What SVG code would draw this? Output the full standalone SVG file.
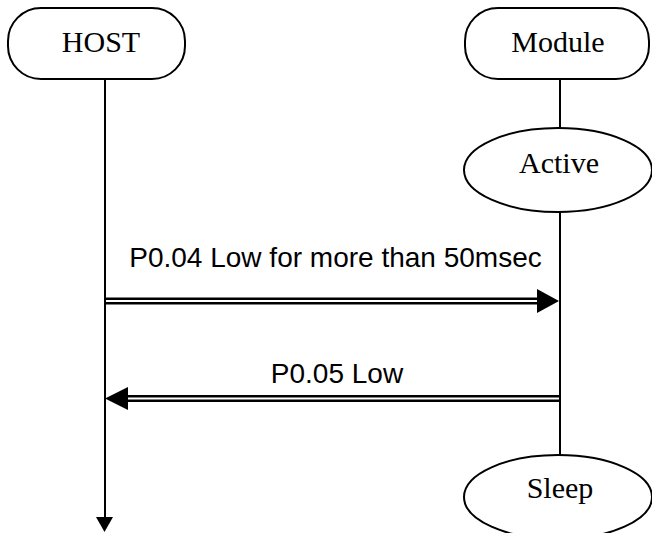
<svg xmlns="http://www.w3.org/2000/svg" width="652" height="533" viewBox="0 0 652 533">
<style>
.box{fill:#fff;stroke:#000;stroke-width:2}
.serif{font-family:"Liberation Serif","DejaVu Serif",serif;font-size:30px;text-anchor:middle;fill:#000}
.sans{font-family:"Liberation Sans",Arial,sans-serif;font-size:28px;text-anchor:middle;fill:#000}
.life{stroke:#000;stroke-width:2;fill:none}
.dbl{stroke:#000;stroke-width:7;fill:none}
.gap{stroke:#fff;stroke-width:2;fill:none}
</style>
<rect width="652" height="533" fill="#fff"/>
<g id="connectors">
  <line class="life" x1="105" y1="79" x2="105" y2="518"/>
  <polygon points="96,517 113,517 104.5,532" fill="#000"/>
  <line class="life" x1="560" y1="79" x2="560" y2="128"/>
  <line class="life" x1="560" y1="212" x2="560" y2="455"/>
  <g id="msg1">
    <line class="dbl" x1="105" y1="301" x2="539" y2="301"/>
    <line class="gap" x1="106" y1="301" x2="539" y2="301"/>
    <polygon points="537,289 559,301 537,313" fill="#000"/>
    <text class="sans" x="335.5" y="267">P0.04 Low for more than 50msec</text>
  </g>
  <g id="msg2">
    <line class="dbl" x1="126" y1="398.5" x2="560" y2="398.5"/>
    <line class="gap" x1="126" y1="398.5" x2="559" y2="398.5"/>
    <polygon points="128,387 105,398.5 128,410" fill="#000"/>
    <text class="sans" x="337" y="383">P0.05 Low</text>
  </g>
</g>
<g id="host">
  <rect class="box" x="8" y="8" width="177" height="71" rx="33" ry="33"/>
  <text class="serif" x="101" y="52">HOST</text>
</g>
<g id="module">
  <rect class="box" x="465" y="8" width="184" height="71" rx="33" ry="33"/>
  <text class="serif" x="558" y="52">Module</text>
</g>
<g id="active">
  <ellipse class="box" cx="558" cy="170" rx="94" ry="42"/>
  <text class="serif" x="559" y="173">Active</text>
</g>
<g id="sleep">
  <ellipse class="box" cx="558" cy="497" rx="94" ry="42"/>
  <text class="serif" x="560" y="498">Sleep</text>
</g>
</svg>
